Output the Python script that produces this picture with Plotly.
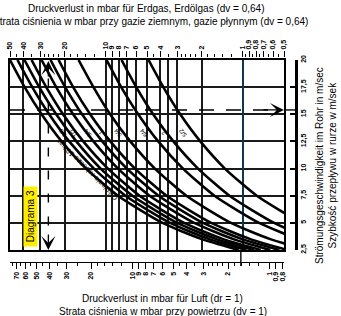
import math
import plotly.graph_objects as go

# ---------------- data ----------------
TITLE_TOP_1 = "Druckverlust in mbar für Erdgas, Erdölgas (dv = 0,64)"
TITLE_TOP_2 = "Strata ciśnienia w mbar przy gazie ziemnym, gazie płynnym (dv = 0,64)"
TITLE_BOTTOM_1 = "Druckverlust in mbar für Luft (dr = 1)"
TITLE_BOTTOM_2 = "Strata ciśnienia w mbar przy powietrzu (dv = 1)"
TITLE_RIGHT_1 = "Strömungsgeschwindigkeit im Rohr in m/sec"
TITLE_RIGHT_2 = "Szybkość przepływu w rurze w m/sek"
DIAGRAM_LABEL = "Diagrama 3"
PRESSURE_NOTE = "Ciśnienie robocze 10 bar"

DV = 0.64
GAS_MAX, GAS_MIN = 50, 0.5
VEL_MIN, VEL_MAX = 2.5, 20

GAS_TICKS = [50, 40, 30, 20, 10, 9, 8, 7, 6, 5, 4, 3, 2, 1, 0.9, 0.8, 0.7, 0.6, 0.5]
GAS_LABELS = ["50", "40", "30", "20", "10", "9", "8", "7", "6", "5", "4", "3", "2",
              "1", "0,9", "0,8", "0,7", "0,6", "0,5"]
GAS_MINOR = [45, 35, 28, 26, 24, 22, 18, 16, 14, 12, 4.5, 3.5, 2.8, 2.6, 2.4, 2.2,
             1.8, 1.6, 1.4, 1.2, 0.95, 0.85, 0.75, 0.65, 0.55]
AIR_TICKS = [80, 70, 60, 50, 40, 30, 20, 10, 9, 8, 7, 6, 5, 4, 3, 2, 1, 0.9, 0.8]
AIR_LABELS = ["80", "70", "60", "50", "40", "30", "20", "10", "9", "8", "7", "6", "5",
              "4", "3", "2", "1", "0,9", "0,8"]
AIR_MINOR = [75, 65, 55, 45, 35, 25, 18, 16, 14, 12, 4.5, 3.5, 2.8, 2.6, 2.4, 2.2,
             1.8, 1.6, 1.4, 1.2]
GRID_GAS = [40, 30, 20, 10, 9, 8, 7, 6, 5, 4, 3.5, 3, 2]
GRID_GAS_BLUE = [1]
VEL_TICKS = [2.5, 5, 7.5, 10, 12.5, 15, 17.5, 20]
VEL_LABELS = ["2,5", "5", "7,5", "10", "12,5", "15", "17,5", "20"]
VEL_GRID = [5, 7.5, 10, 12.5, 15, 17.5]

# velocities (m/s) at which each curve was read, gas pressure loss (mbar) per curve
VELOCITY = [20, 17.5, 15, 12.5, 10, 7.5, 5, 3.5, 2.5]
CURVE_A = [50, 39.1, 29.4, 21.0, 13.9, 8.15, 3.85, 1.99, 1.07]
CURVE_B = [44.1, 34.4, 25.9, 18.5, 12.2, 7.19, 3.39, 1.76, 0.94]
CURVE_C = [39.2, 30.6, 23.0, 16.4, 10.9, 6.39, 3.01, 1.56, 0.83]
CURVE_D = [34.8, 27.2, 20.5, 14.6, 9.64, 5.67, 2.68, 1.39, 0.74]
CURVE_E = [29.4, 23.0, 17.3, 12.3, 8.14, 4.79, 2.26, 1.17, 0.63]
CURVE_F = [25.3, 19.8, 14.9, 10.6, 7.01, 4.12, 1.95, 1.01, 0.54]
CURVE_G = [22.1, 17.3, 13.0, 9.26, 6.12, 3.60, 1.70, 0.88, 0.47]
CURVE_H = [15.8, 12.3, 9.29, 6.62, 4.38, 2.58, 1.22, 0.63, 0.34]
CURVE_I = [9.87, 7.71, 5.80, 4.14, 2.73, 1.61, 0.76, 0.39, 0.21]
CURVE_J = [7.67, 5.99, 4.51, 3.21, 2.12, 1.25, 0.59, 0.31, 0.16]
CURVE_K = [4.87, 3.80, 2.86, 2.04, 1.35, 0.79, 0.37, 0.19, 0.10]
CURVES = [CURVE_A, CURVE_B, CURVE_C, CURVE_D, CURVE_E, CURVE_F, CURVE_G,
          CURVE_H, CURVE_I, CURVE_J, CURVE_K]

CURVE_LABELS = ["3/8", "1/2", "3/4", "1", "5/4", "6/4", "2", "5/2"]
CURVE_LABEL_GAS = [20.7, 17.2, 13.6, 10.9, 8.2, 5.3, 3.8, 2.75]
CURVE_LABEL_VEL = 13.3

EXAMPLE_AIR = 41
EXAMPLE_VEL = 15.4
EXAMPLE_VEL_TOP = 18.3
EXAMPLE_VEL_BOTTOM = 4.1

# ---------------- layout geometry ----------------
W, H = 341, 316
L, R, T, B = 10, 45, 57, 54
PW = W - L - R
PH = H - T - B
XD1 = 274 / PW
YD0, YD1 = 12 / PH, 202 / PH
FONT = "Liberation Sans, Arial, sans-serif"
lg = math.log10
gas_range = [lg(GAS_MAX), lg(GAS_MIN)]
air_range = [lg(GAS_MAX / DV), lg(GAS_MIN / DV)]


def px(xpage):
    return (xpage - L) / PW


def py(ypage):
    return (H - B - ypage) / PH


fig = go.Figure()

for c in CURVES:
    fig.add_trace(go.Scatter(
        x=c, y=VELOCITY[:len(c)], xaxis="x2", yaxis="y2", mode="lines",
        line=dict(color="black", width=2.6, shape="spline", smoothing=0.6),
        hoverinfo="skip", showlegend=False))

# example dashed lines
fig.add_trace(go.Scatter(
    x=[EXAMPLE_AIR, EXAMPLE_AIR], y=[EXAMPLE_VEL_TOP, EXAMPLE_VEL_BOTTOM],
    xaxis="x", yaxis="y", mode="lines",
    line=dict(color="black", width=1.4, dash="9px,14px"),
    hoverinfo="skip", showlegend=False))
fig.add_trace(go.Scatter(
    x=[GAS_MAX, GAS_MIN * 1.08], y=[EXAMPLE_VEL, EXAMPLE_VEL],
    xaxis="x2", yaxis="y2", mode="lines",
    line=dict(color="black", width=1.4, dash="15px,12px"),
    hoverinfo="skip", showlegend=False))
# helper traces so that every axis is drawn
fig.add_trace(go.Scatter(x=[GAS_MAX], y=[VEL_MAX], xaxis="x3", yaxis="y2",
                         mode="markers", marker=dict(opacity=0), hoverinfo="skip", showlegend=False))
fig.add_trace(go.Scatter(x=[GAS_MAX], y=[VEL_MAX], xaxis="x4", yaxis="y2",
                         mode="markers", marker=dict(opacity=0), hoverinfo="skip", showlegend=False))

tick_font = dict(family=FONT, size=7, color="black", weight="bold")

fig.update_layout(
    width=W, height=H, margin=dict(l=L, r=R, t=T, b=B, autoexpand=False),
    paper_bgcolor="white", plot_bgcolor="white", showlegend=False,
    font=dict(family=FONT, color="black"),
    xaxis=dict(type="log", range=air_range, autorange=False, domain=[0, XD1],
               anchor="free", position=0, showgrid=False, zeroline=False, automargin=False,
               showline=True, linecolor="black", linewidth=1,
               ticks="outside", ticklen=6, tickwidth=1, tickcolor="black",
               tickvals=AIR_TICKS, ticktext=AIR_LABELS, tickangle=-90, tickfont=tick_font,
               minor=dict(tickvals=AIR_MINOR, ticks="outside", ticklen=3,
                          tickcolor="black", tickwidth=1, showgrid=False)),
    xaxis2=dict(type="log", range=gas_range, autorange=False, overlaying="x", automargin=False,
                side="top", anchor="free", position=1, showgrid=False, zeroline=False,
                showline=False, ticks="outside", ticklen=6, tickwidth=1, tickcolor="black",
                tickvals=GAS_TICKS, ticktext=GAS_LABELS, tickangle=-90, tickfont=tick_font,
                minor=dict(tickvals=GAS_MINOR, ticks="outside", ticklen=3,
                           tickcolor="black", tickwidth=1, showgrid=False)),
    xaxis3=dict(type="log", range=gas_range, autorange=False, overlaying="x", automargin=False,
                anchor="y2", showgrid=True, gridcolor="#1a1a1a", gridwidth=1.5,
                tickvals=GRID_GAS, showticklabels=False, ticks="", zeroline=False,
                showline=True, mirror=True, linecolor="black", linewidth=2),
    xaxis4=dict(type="log", range=gas_range, autorange=False, overlaying="x", automargin=False,
                anchor="y2", showgrid=True, gridcolor="#0d3a4a", gridwidth=1.5,
                tickvals=GRID_GAS_BLUE, showticklabels=False, ticks="", zeroline=False,
                showline=False),
    yaxis=dict(range=[VEL_MIN, VEL_MAX], autorange=False, domain=[YD0, YD1], automargin=False,
               anchor="free", position=1, side="right", showgrid=False, zeroline=False,
               showline=True, linecolor="black", linewidth=3,
               ticks="inside", ticklen=5, tickwidth=1.5, tickcolor="black",
               tickvals=VEL_TICKS, ticktext=VEL_LABELS, tickangle=-90, tickfont=tick_font),
    yaxis2=dict(range=[VEL_MIN, VEL_MAX], autorange=False, overlaying="y", anchor="x",
                automargin=False,
                showgrid=True, gridcolor="#1a1a1a", gridwidth=1.5, tickvals=VEL_GRID,
                showticklabels=False, ticks="", zeroline=False,
                showline=True, mirror=True, linecolor="black", linewidth=2),
)

txt = dict(showarrow=False, xanchor="center", yanchor="middle")
ann = []
ann.append(dict(text=TITLE_TOP_1, xref="paper", yref="paper", x=px(146), y=py(8),
                font=dict(size=10, family=FONT), **txt))
ann.append(dict(text=TITLE_TOP_2, xref="paper", yref="paper", x=px(150), y=py(21),
                font=dict(size=10, family=FONT), **txt))
ann.append(dict(text=TITLE_BOTTOM_1, xref="paper", yref="paper", x=px(162), y=py(298),
                font=dict(size=10, family=FONT), **txt))
ann.append(dict(text=TITLE_BOTTOM_2, xref="paper", yref="paper", x=px(163), y=py(311),
                font=dict(size=10, family=FONT), **txt))
ann.append(dict(text=TITLE_RIGHT_1 + "<br>" + TITLE_RIGHT_2, xref="paper", yref="paper",
                x=px(326), y=py(165), textangle=-90,
                font=dict(size=10, family=FONT), **txt))
ann.append(dict(text="\u00a0" + DIAGRAM_LABEL + "\u00a0", xref="paper", yref="paper",
                x=px(30), y=py(217), textangle=-90, bgcolor="#ffee00",
                borderpad=1, font=dict(size=10, family=FONT), **txt))
ann.append(dict(text=PRESSURE_NOTE, xref="x2", yref="y2", x=lg(13.6), y=9.9,
                textangle=-135, font=dict(size=7.5, family=FONT), **txt))
for t, g in zip(CURVE_LABELS, CURVE_LABEL_GAS):
    ann.append(dict(text=t, xref="x2", yref="y2", x=lg(g), y=CURVE_LABEL_VEL,
                    textangle=-127, font=dict(size=6, family=FONT), **txt))
# arrowheads of the example
arrow_style = dict(showarrow=True, arrowhead=3, arrowsize=1.8, arrowwidth=1.3,
                   arrowcolor="black", text="", standoff=0)
ann.append(dict(x=lg(EXAMPLE_AIR), y=VEL_MAX - 0.1, xref="x", yref="y", ax=0, ay=17, **arrow_style))
ann.append(dict(x=lg(EXAMPLE_AIR), y=VEL_MIN, xref="x", yref="y", ax=0, ay=-17, **arrow_style))
ann.append(dict(x=1.0, y=EXAMPLE_VEL, xref="x domain", yref="y", ax=-22, ay=0, **arrow_style))
fig.update_layout(annotations=ann)

fig.update_layout(shapes=[
    dict(type="line", xref="paper", yref="y", x0=XD1, x1=1.0, y0=EXAMPLE_VEL, y1=EXAMPLE_VEL,
         line=dict(color="black", width=1.4)),
    dict(type="line", xref="x", yref="paper", x0=lg(EXAMPLE_AIR), x1=lg(EXAMPLE_AIR),
         y0=YD0, y1=-0.02, line=dict(color="black", width=1.4)),
])

# remove the browser's default 8px page margin so the figure sits at the window corner
fig.write_html("out.html", config={"displayModeBar": False},
               post_script="document.body.style.margin='0';")
